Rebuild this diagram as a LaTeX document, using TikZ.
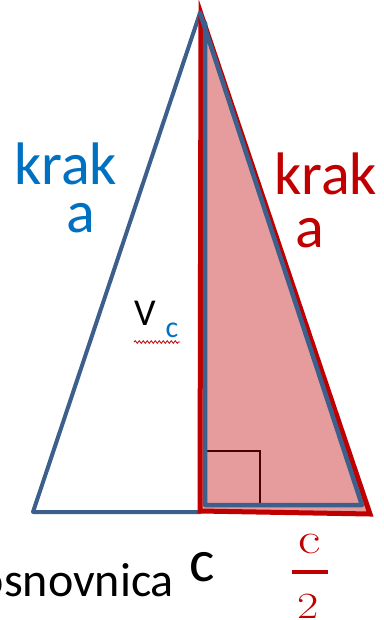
\documentclass[tikz,border=0pt]{standalone}
\usepackage{fontspec}
\setmainfont{Carlito}
\usetikzlibrary{decorations.pathmorphing}
\definecolor{tblue}{HTML}{0070C0}
\definecolor{sblue}{HTML}{3C5F8C}
\definecolor{tred}{HTML}{C00000}
\definecolor{pinkfill}{HTML}{E69C9C}
\definecolor{darkred}{HTML}{4A0000}
\tikzset{
  lbl/.style={inner sep=0pt, outer sep=0pt, anchor=base},
  blueline/.style={draw=sblue, line width=4.5pt, line join=round, line cap=round},
  redtri/.style={draw=tred, fill=pinkfill, line width=5pt, line join=miter},
}
\begin{document}
\begin{tikzpicture}[x=1pt,y=-1pt]
\useasboundingbox (0,0) rectangle (383,620);
% key points
\coordinate (A) at (200,13);
\coordinate (B) at (33,512);
\coordinate (H) at (200,512);
\coordinate (R1) at (201,14);
\coordinate (R2) at (200,511);
\coordinate (R3) at (370,514);
\coordinate (I1) at (205,23);
\coordinate (I2) at (205,505);
\coordinate (I3) at (362,505);
\coordinate (S1) at (205,451);
\coordinate (S2) at (260,451);
\coordinate (S3) at (260,505);
% outer blue left part
\draw[blueline, line width=4pt] (H) -- (B) -- (A);
% red right triangle
\draw[redtri] (R1) -- (R2) -- (R3) -- cycle;
% right angle mark
\draw[darkred, line width=1.2pt] (S1) -- (S2) -- (S3);
% inner blue right triangle
\draw[blueline] (I1) -- (I2) -- (I3) -- (A);
% labels
\node[lbl, text=tblue, font=\fontsize{60}{60}\selectfont] (kl) at (65.5,185) {krak};
\node[lbl, text=tblue, font=\fontsize{60}{60}\selectfont] (al) at (81,233) {a};
\node[lbl, text=tred, font=\fontsize{60}{60}\selectfont] (kr) at (325.5,195) {krak};
\node[lbl, text=tred, font=\fontsize{60}{60}\selectfont] (ar) at (309.5,247) {a};
\node[lbl, font=\fontsize{38}{38}\selectfont] (v) at (145,325) {V};
\node[lbl, text=tblue, font=\fontsize{30}{30}\selectfont] (vc) at (172,337) {c};
\draw[tred, line width=0.8pt, decorate, decoration={snake, amplitude=1.3pt, segment length=4pt}] (134,342) -- (180,342);
\node[lbl, anchor=base east, font=\fontsize{48}{48}\selectfont] (osn) at (174,596) {osnovnica};
\node[lbl, font=\fontsize{60}{60}\selectfont] (c) at (202,581) {c};
\node[lbl, text=tred, xscale=1.25, font=\fontsize{44}{44}\selectfont] (fc) at (310,553) {\fontspec{Latin Modern Roman}c};
\draw[tred, line width=3.5pt] (292,572) -- (328,572);
\node[lbl, text=tred, xscale=1.25, font=\fontsize{37}{37}\selectfont] (f2) at (308,618) {\fontspec{Latin Modern Roman}2};
\end{tikzpicture}
\end{document}
